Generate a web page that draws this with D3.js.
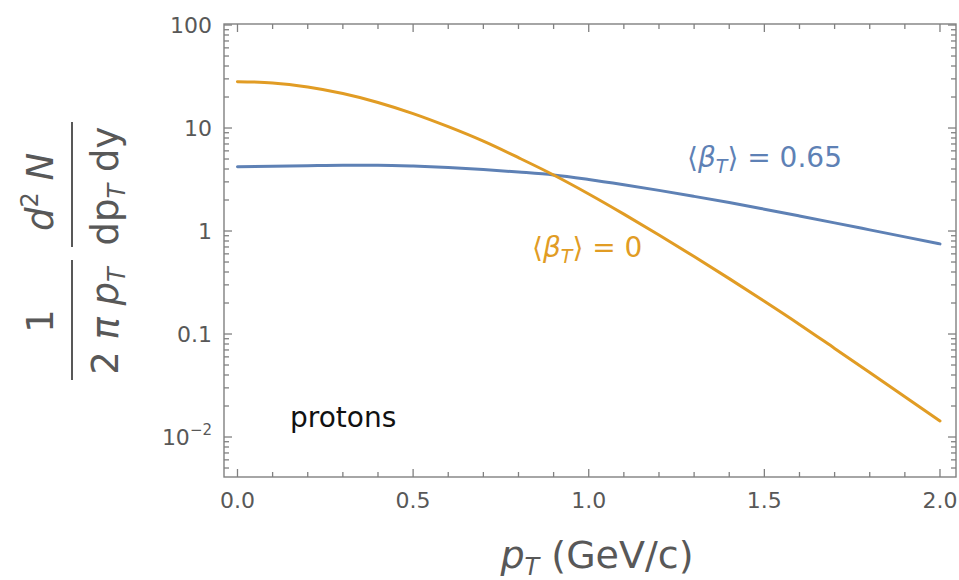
<!DOCTYPE html>
<html><head><meta charset="utf-8">
<script src="https://cdn.jsdelivr.net/npm/d3@7"></script>
<style>body{margin:0;background:#fff}</style>
</head><body><svg id="c" width="959" height="580"></svg>
<script>
// ---- data ----
const pT = [0.0,0.1,0.2,0.3,0.4,0.5,0.6,0.7,0.8,0.9,1.0,1.1,1.2,1.3,1.4,1.5,1.6,1.7,1.8,1.9,2.0];
const spectrumBeta0   = [28.2,27.4,25.0,21.6,17.7,13.8,10.3,7.45,5.15,3.50,2.29,1.46,0.915,0.565,0.345,0.208,0.124,0.0725,0.0423,0.0246,0.0143];
const spectrumBeta065 = [4.21,4.25,4.30,4.34,4.34,4.27,4.14,3.96,3.74,3.50,3.16,2.81,2.48,2.17,1.89,1.63,1.40,1.20,1.026,0.877,0.750];
const xMajorTicks = [0,0.5,1.0,1.5,2.0];
const xTickLabels = ["0.0","0.5","1.0","1.5","2.0"];
const xMinorTicks = [0.1,0.2,0.3,0.4,0.6,0.7,0.8,0.9,1.1,1.2,1.3,1.4,1.6,1.7,1.8,1.9];
const yMajorTicks = [0.01,0.1,1,10,100];
const yTickLabels = ["10^-2","0.1","1","10","100"];
const seriesNames = ["⟨βT⟩ = 0.65","⟨βT⟩ = 0"];
const annotation = "protons";

// ---- layout ----
const L = 224, R = 956, T = 24, B = 477;
const svg = d3.select("#c");
const x = d3.scaleLinear().domain([-0.0384, 2.0456]).range([L, R]);
const y = d3.scaleLog().domain([0.00409, 102.3]).range([B, T]);

const blue = "#5E81B5", orange = "#E19C24";
const frameCol = "#808080", textCol = "#585858";
const font = "'DejaVu Sans', Verdana, sans-serif";

// frame
svg.append("rect").attr("x", L).attr("y", T).attr("width", R - L).attr("height", B - T)
  .attr("fill", "none").attr("stroke", frameCol).attr("stroke-width", 1.4);

// ticks
const tk = svg.append("g").attr("stroke", frameCol).attr("stroke-width", 1.3);
function xTick(v, len) {
  tk.append("line").attr("x1", x(v)).attr("x2", x(v)).attr("y1", B).attr("y2", B - len);
  tk.append("line").attr("x1", x(v)).attr("x2", x(v)).attr("y1", T).attr("y2", T + len);
}
xMajorTicks.forEach(v => xTick(v, 8));
xMinorTicks.forEach(v => xTick(v, 5));
const yMinor = [];
for (let e = -3; e <= 2; e++) for (let k = 2; k <= 9; k++) {
  const v = k * Math.pow(10, e);
  if (v > y.domain()[0] && v < y.domain()[1]) yMinor.push(v);
}
function yTick(v, len) {
  tk.append("line").attr("y1", y(v)).attr("y2", y(v)).attr("x1", L).attr("x2", L + len);
  tk.append("line").attr("y1", y(v)).attr("y2", y(v)).attr("x1", R).attr("x2", R - len);
}
yMajorTicks.forEach(v => yTick(v, 8));
yMinor.forEach(v => yTick(v, 5));

// tick labels
xMajorTicks.forEach((v, i) => {
  svg.append("text").attr("x", x(v)).attr("y", 508).attr("text-anchor", "middle")
    .attr("font-family", font).attr("font-size", 22).attr("fill", textCol).text(xTickLabels[i]);
});
yMajorTicks.forEach((v, i) => {
  const t = svg.append("text").attr("x", 212).attr("y", y(v)).attr("dy", "0.36em")
    .attr("text-anchor", "end").attr("font-family", font).attr("font-size", 22).attr("fill", textCol);
  const lab = yTickLabels[i];
  if (lab.includes("^")) {
    const [b, e] = lab.split("^");
    t.append("tspan").text(b);
    t.append("tspan").attr("font-size", 15).attr("dy", -10).text(e.replace("-", "−"));
  } else t.text(lab);
});

// curves
const line = d3.line().x(d => x(d[0])).y(d => y(d[1])).curve(d3.curveMonotoneX);
const s065 = pT.map((p, i) => [p, spectrumBeta065[i]]);
const s0 = pT.map((p, i) => [p, spectrumBeta0[i]]);
svg.append("path").datum(s065).attr("d", line).attr("fill", "none").attr("stroke", blue)
  .attr("stroke-width", 3).attr("stroke-linecap", "round");
svg.append("path").datum(s0).attr("d", line).attr("fill", "none").attr("stroke", orange)
  .attr("stroke-width", 3).attr("stroke-linecap", "round");

// series labels
function betaLabel(xp, yp, col, val) {
  const t = svg.append("text").attr("x", xp).attr("y", yp).attr("font-family", font)
    .attr("font-size", 28).attr("fill", col);
  t.append("tspan").text("⟨");
  t.append("tspan").attr("font-style", "italic").text("β");
  t.append("tspan").attr("font-style", "italic").attr("font-size", 19).attr("dy", 6).text("T");
  t.append("tspan").attr("dy", -6).text("⟩ = " + val);
}
betaLabel(687, 167, blue, seriesNames[0].split("= ")[1]);
betaLabel(532, 257, orange, seriesNames[1].split("= ")[1]);

svg.append("text").attr("x", 290).attr("y", 427).attr("font-family", font)
  .attr("font-size", 28).attr("fill", "#111").text(annotation);

// x title
const xt = svg.append("text").attr("x", 597).attr("y", 568).attr("text-anchor", "middle")
  .attr("font-family", font).attr("font-size", 38).attr("fill", textCol);
xt.append("tspan").attr("font-style", "italic").text("p");
xt.append("tspan").attr("font-style", "italic").attr("font-size", 24).attr("dy", 7).text("T");
xt.append("tspan").attr("dy", -7).text(" (GeV/c)");

// y title (rotated fraction)
const yg = svg.append("g").attr("transform", "rotate(-90)")
  .attr("font-family", font).attr("font-size", 37).attr("fill", textCol);
yg.append("text").attr("x", -321).attr("y", 53).attr("text-anchor", "middle").text("1");
yg.append("line").attr("x1", -380).attr("x2", -260).attr("y1", 72).attr("y2", 72)
  .attr("stroke", textCol).attr("stroke-width", 2);
const d1 = yg.append("text").attr("x", -321).attr("y", 118).attr("text-anchor", "middle");
d1.append("tspan").text("2 ");
d1.append("tspan").attr("font-style", "italic").text("π ");
d1.append("tspan").attr("font-style", "italic").text("p");
d1.append("tspan").attr("font-style", "italic").attr("font-size", 24).attr("dy", 7).text("T");
const n2 = yg.append("text").attr("x", -192).attr("y", 53).attr("text-anchor", "middle");
n2.append("tspan").attr("font-style", "italic").text("d");
n2.append("tspan").attr("font-size", 24).attr("dy", -15).text("2");
n2.append("tspan").attr("dy", 15).attr("font-style", "italic").text(" N");
yg.append("line").attr("x1", -247).attr("x2", -122).attr("y1", 72).attr("y2", 72)
  .attr("stroke", textCol).attr("stroke-width", 2);
const d2 = yg.append("text").attr("x", -186).attr("y", 118).attr("text-anchor", "middle");
d2.append("tspan").text("dp");
d2.append("tspan").attr("font-style", "italic").attr("font-size", 24).attr("dy", 7).text("T");
d2.append("tspan").attr("dy", -7).text(" dy");
</script></body></html>
